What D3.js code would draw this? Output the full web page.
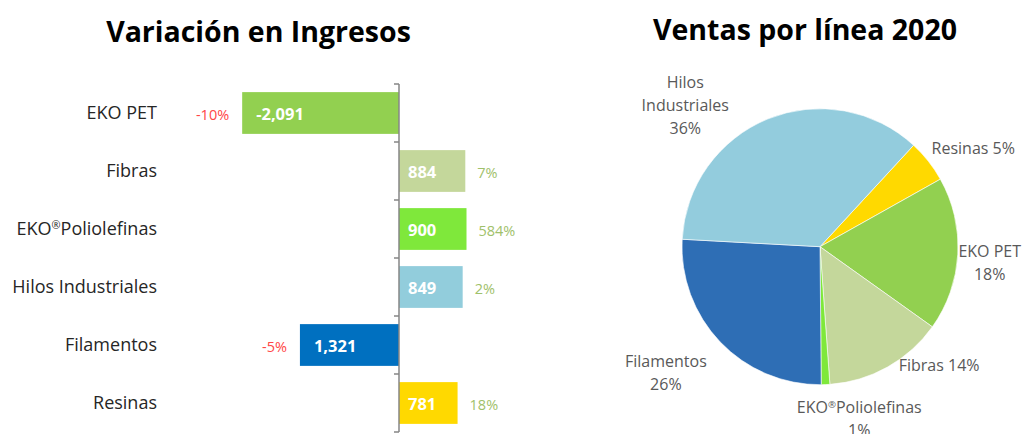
<html>
<head>
    <style>
        body { margin: 0; background: #fff; }
        text { font-family: "Open Sans", sans-serif; }
    </style>
</head>
<body>
    <svg id="container" width="1023" height="434">
        <g id="bars"></g>
        <g id="pie" transform="translate(820,246.7)"></g>
    </svg>
</body>
<script src="https://cdnjs.cloudflare.com/ajax/libs/d3/7.8.5/d3.min.js"></script>
<script>
    // left chart data
    let barCategories = ["EKO PET", "Fibras", "EKO®Poliolefinas", "Hilos Industriales", "Filamentos", "Resinas"]
    let barValues = [-2091, 884, 900, 849, -1321, 781]
    let barValueLabels = ["-2,091", "884", "900", "849", "1,321", "781"]
    let barPct = [-10, 7, 584, 2, -5, 18]
    let barColors = ["#92d050", "#c4d79b", "#7fe83b", "#92cddc", "#0070c0", "#ffd900"]

    // right chart data
    let pieCategories = ["Resinas", "EKO PET", "Fibras", "EKO®Poliolefinas", "Filamentos", "Hilos Industriales"]
    let pieValues = [5, 18, 14, 1, 26, 36]
    let pieLabelLines = [["Resinas 5%"], ["EKO PET", "18%"], ["Fibras 14%"], ["EKO®Poliolefinas", "1%"], ["Filamentos", "26%"], ["Hilos", "Industriales", "36%"]]
    let pieColors = ["#ffd900", "#92d050", "#c4d79b", "#7fe83b", "#2e6eb5", "#93ccdd"]

    let svg = d3.select("#container")

    // writes a string into a text/tspan, with ® drawn as a small superscript
    function writeWithReg(sel, str) {
        let parts = str.split("®")
        parts.forEach((p, i) => {
            if (i > 0) {
                sel.append("tspan")
                    .style("font-size", "60%")
                    .attr("baseline-shift", "55%")
                    .text("®")
            }
            if (p.length) sel.append("tspan").text(p)
        })
    }

    // titles
    svg.append("text")
        .attr("x", 258.5).attr("y", 42)
        .attr("text-anchor", "middle")
        .style("font-size", "28.5px").style("font-weight", "bold").attr("fill", "#000")
        .text("Variación en Ingresos")

    svg.append("text")
        .attr("x", 805).attr("y", 39.5)
        .attr("text-anchor", "middle")
        .style("font-size", "28.5px").style("font-weight", "bold").attr("fill", "#000")
        .text("Ventas por línea 2020")

    // ---------- bar chart ----------
    let bars = d3.select("#bars")

    let xScale = d3.scaleLinear()
        .domain([-2400, 1000])
        .range([219, 474])

    let yScale = d3.scaleBand()
        .domain(barCategories)
        .range([84, 432])
        .paddingInner(0.28)
        .paddingOuter(0.14)

    let rows = barCategories.map((c, i) => ({
        cat: c, value: barValues[i], label: barValueLabels[i], pct: barPct[i], color: barColors[i]
    }))

    bars.selectAll(".bar")
        .data(rows)
        .enter()
        .append("rect")
        .attr("class", "bar")
        .attr("x", d => xScale(Math.min(0, d.value)))
        .attr("width", d => Math.abs(xScale(d.value) - xScale(0)))
        .attr("y", d => yScale(d.cat))
        .attr("height", yScale.bandwidth())
        .attr("fill", d => d.color)

    // axis line with ticks at band edges
    let step = yScale.step()
    let edges = d3.range(barCategories.length + 1).map(i => yScale.range()[0] + i * step)
    bars.append("line")
        .attr("x1", xScale(0)).attr("x2", xScale(0))
        .attr("y1", edges[0]).attr("y2", edges[edges.length - 1])
        .attr("stroke", "#868686").attr("stroke-width", 1.5)
    bars.selectAll(".tick")
        .data(edges)
        .enter()
        .append("line")
        .attr("class", "tick")
        .attr("x1", xScale(0) - 5).attr("x2", xScale(0))
        .attr("y1", d => d).attr("y2", d => d)
        .attr("stroke", "#868686").attr("stroke-width", 1.5)

    // category labels
    bars.selectAll(".cat")
        .data(rows)
        .enter()
        .append("text")
        .attr("class", "cat")
        .attr("x", 157)
        .attr("y", d => yScale(d.cat) + yScale.bandwidth() / 2)
        .attr("dy", "0.35em")
        .attr("text-anchor", "end")
        .style("font-size", "18px")
        .attr("fill", "#262626")
        .each(function(d) { writeWithReg(d3.select(this), d.cat) })

    // values inside bars
    bars.selectAll(".val")
        .data(rows)
        .enter()
        .append("text")
        .attr("class", "val")
        .attr("x", d => d.value < 0 ? xScale(d.value) + 14 : xScale(0) + 9)
        .attr("y", d => yScale(d.cat) + yScale.bandwidth() / 2 + 1)
        .attr("dy", "0.35em")
        .style("font-size", "16.5px").style("font-weight", "bold")
        .attr("fill", "#fff")
        .text(d => d.label)

    // percentage change labels
    bars.selectAll(".pct")
        .data(rows)
        .enter()
        .append("text")
        .attr("class", "pct")
        .attr("x", d => d.value < 0 ? xScale(d.value) - 13 : xScale(d.value) + 12)
        .attr("y", d => yScale(d.cat) + yScale.bandwidth() / 2 + 2)
        .attr("dy", "0.35em")
        .attr("text-anchor", d => d.value < 0 ? "end" : "start")
        .style("font-size", "14.5px")
        .attr("fill", d => d.pct < 0 ? "#ff4646" : "#9fc16b")
        .text(d => d.pct + "%")

    // ---------- pie chart ----------
    let pieG = d3.select("#pie")
    let radius = 138
    let start = 42.7 * Math.PI / 180

    let pie = d3.pie()
        .sort(null)
        .value(d => d.value)
        .startAngle(start)
        .endAngle(start + 2 * Math.PI)

    let slices = pieCategories.map((c, i) => ({
        cat: c, value: pieValues[i], lines: pieLabelLines[i], color: pieColors[i]
    }))

    let arc = d3.arc().innerRadius(0).outerRadius(radius)
    let labelArc = d3.arc().innerRadius(180).outerRadius(180)

    pieG.selectAll(".slice")
        .data(pie(slices))
        .enter()
        .append("path")
        .attr("class", "slice")
        .attr("d", arc)
        .attr("fill", d => d.data.color)
        .attr("stroke", "#fff")
        .attr("stroke-width", 0.6)

    // small nudges so the labels sit where the original placed them
    let labelNudge = [[12, 13], [-10, 6], [31, -38], [32, -8], [-24, 2], [-67, 25]]
    let lineH = 23

    let labels = pieG.selectAll(".plabel")
        .data(pie(slices))
        .enter()
        .append("text")
        .attr("class", "plabel")
        .attr("text-anchor", "middle")
        .style("font-size", "16px")
        .attr("fill", "#595959")
        .attr("transform", (d, i) => {
            let c = labelArc.centroid(d)
            let n = d.data.lines.length
            return "translate(" + (c[0] + labelNudge[i][0]) + "," + (c[1] + labelNudge[i][1] - (n - 1) * lineH / 2) + ")"
        })

    // one tspan per line of the label
    labels.each(function(d) {
        let t = d3.select(this)
        d.data.lines.forEach((line, i) => {
            let row = t.append("tspan")
                .attr("x", 0)
                .attr("y", i * lineH)
                .attr("dy", "0.35em")
            writeWithReg(row, line)
        })
    })
</script>
</html>
